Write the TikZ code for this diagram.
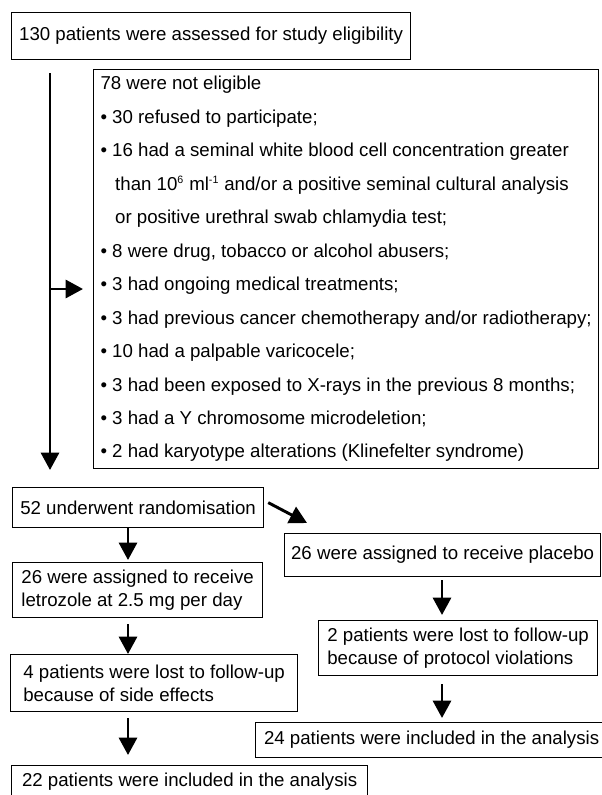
\documentclass[tikz,border=0pt]{standalone}
\usepackage{fontspec}
\setmainfont{Liberation Sans}
\usetikzlibrary{arrows.meta}
\tikzset{
  box/.style={draw, line width=0.9pt, anchor=north west, align=left,
    inner sep=0pt, font=\fontsize{14}{17.25}\selectfont},
  flow/.style={line width=2.2pt, -{Triangle[length=13pt,width=13.5pt]}}
}
\begin{document}
\begin{tikzpicture}[x=0.75pt,y=-0.75pt]
\useasboundingbox (0,0) rectangle (601,795);
\node[box, minimum width=299.25pt, minimum height=35.25pt] (assess) at (11,12)
  {130 patients were assessed for study eligibility};
\node[box, minimum width=378.75pt, minimum height=299.25pt,
  font=\fontsize{14}{25.1}\selectfont] (excl) at (93,69)
  {78 were not eligible\\
   • 30 refused to participate;\\
   • 16 had a seminal white blood cell concentration greater\\
   \hspace*{11pt}than 10\textsuperscript{\fontsize{8}{8}\selectfont 6} ml\textsuperscript{\fontsize{8}{8}\selectfont -1} and/or a positive seminal cultural analysis\\
   \hspace*{11pt}or positive urethral swab chlamydia test;\\
   • 8 were drug, tobacco or alcohol abusers;\\
   • 3 had ongoing medical treatments;\\
   • 3 had previous cancer chemotherapy and/or radiotherapy;\\
   • 10 had a palpable varicocele;\\
   • 3 had been exposed to X-rays in the previous 8 months;\\
   • 3 had a Y chromosome microdeletion;\\
   • 2 had karyotype alterations (Klinefelter syndrome)};
\node[box, minimum width=188.25pt, minimum height=30pt] (rand) at (12,487)
  {52 underwent randomisation};
\node[box, minimum width=187.5pt, minimum height=41.25pt] (letro) at (12,562)
  {26 were assigned to receive\\letrozole at 2.5 mg per day};
\node[box, minimum width=237pt, minimum height=32.25pt] (plac) at (284,533)
  {26 were assigned to receive placebo};
\node[box, minimum width=215.25pt, minimum height=42.75pt] (lostl) at (10,654)
  {4 patients were lost to follow-up\\because of side effects};
\node[box, minimum width=209.25pt, minimum height=41.25pt] (lostp) at (318,620)
  {2 patients were lost to follow-up\\because of protocol violations};
\node[box, minimum width=267pt, minimum height=24pt] (inclL) at (11,765)
  {22 patients were included in the analysis};
\node[box, minimum width=264pt, minimum height=26.25pt] (inclP) at (255,722)
  {24 patients were included in the analysis};
\coordinate (split) at (50,289);
\coordinate (lcol) at (128,0);
\coordinate (rcol) at (442,0);
\draw[flow, shorten <=9.75pt, shorten >=12.75pt] (assess.south -| split) -- (rand.north -| split);
\draw[flow, shorten >=7.5pt] (split) -- (excl.west |- split);
\draw[flow, shorten >=1.5pt] (rand.south -| lcol) -- (letro.north -| lcol);
\draw[flow, shorten <=4.5pt] (letro.south -| lcol) -- (lostl.north -| lcol);
\draw[flow, shorten <=4.5pt, shorten >=7.5pt] (lostl.south -| lcol) -- (inclL.north -| lcol);
\draw[flow] ([xshift=3pt,yshift=3.75pt]rand.east) -- ([xshift=17.25pt,yshift=7.5pt]plac.north west);
\draw[flow, shorten <=2.25pt, shorten >=3.75pt] (plac.south -| rcol) -- (lostp.north -| rcol);
\draw[flow, shorten <=6pt, shorten >=3pt] (lostp.south -| rcol) -- (inclP.north -| rcol);
\end{tikzpicture}
\end{document}
